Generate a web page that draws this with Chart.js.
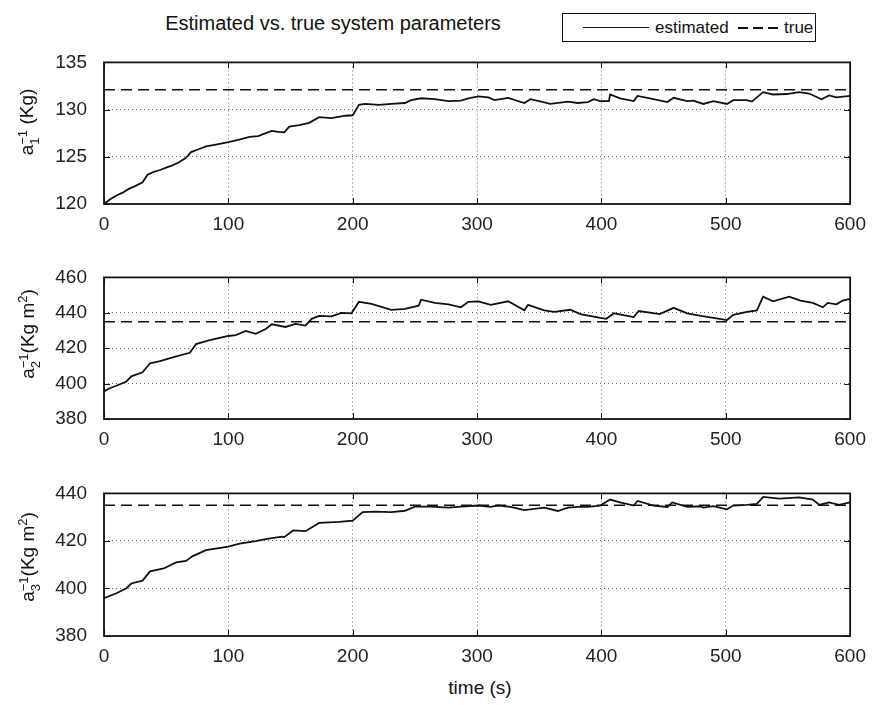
<!DOCTYPE html>
<html>
<head>
<meta charset="utf-8">
<script src="https://cdn.jsdelivr.net/npm/chart.js@4.4.1/dist/chart.umd.min.js"></script>
<style>
  html, body { margin: 0; padding: 0; background: #fff; }
  body { width: 875px; height: 705px; position: relative; overflow: hidden;
         font-family: 'Liberation Sans', Arial, sans-serif; color: #111; }
  canvas { position: absolute; left: 0; }
  .title { position: absolute; left: 333px; top: 23px; transform: translate(-50%, -50%);
           font-size: 20px; white-space: nowrap; }
  .ylab { position: absolute; left: 28px; transform: translate(-50%, -50%) rotate(-90deg);
          font-size: 19px; white-space: nowrap; }
  .ss { display: inline-block; font-size: 13px; line-height: 12px; vertical-align: -6px; text-align: left; }
  .ss span { display: block; }
  .sq { font-size: 13px; vertical-align: 7px; }
  .xlab { position: absolute; left: 480px; top: 688px; transform: translate(-50%, -50%);
          font-size: 19px; white-space: nowrap; }
  .legend { position: absolute; left: 562px; top: 13px; width: 254px; height: 29px;
            border: 1.5px solid #111; box-sizing: border-box; font-size: 17px; }
  .legend .solid { position: absolute; left: 20px; top: 13px; width: 66px; border-top: 1.6px solid #111; }
  .legend .dash { position: absolute; left: 175px; top: 13px; width: 40px; height: 1.6px;
                  background: repeating-linear-gradient(90deg, #111 0 10px, transparent 10px 15px); }
  .legend .t1 { position: absolute; left: 92px; top: 4px; }
  .legend .t2 { position: absolute; left: 221px; top: 4px; }
</style>
</head>
<body>
<div class="title">Estimated vs. true system parameters</div>
<div class="legend">
  <div class="solid"></div><span class="t1">estimated</span>
  <div class="dash"></div><span class="t2">true</span>
</div>
<canvas id="c1" width="875" height="204" style="top:34px"></canvas>
<canvas id="c2" width="875" height="204" style="top:249px"></canvas>
<canvas id="c3" width="875" height="205" style="top:465px"></canvas>
<div class="ylab" style="top:122px">a<span class="ss"><span>−1</span><span>1</span></span> (Kg)</div>
<div class="ylab" style="top:334px">a<span class="ss"><span>−1</span><span>2</span></span>(Kg m<span class="sq">2</span>)</div>
<div class="ylab" style="top:557px">a<span class="ss"><span>−1</span><span>3</span></span>(Kg m<span class="sq">2</span>)</div>
<div class="xlab">time (s)</div>
<script>
// estimated a1^-1 (Kg)
const a1Time = [0, 5, 10, 15, 20, 25, 31, 35, 40, 45, 50, 55, 60, 66, 70, 76, 82, 90, 100, 108,
  117, 124, 130, 135, 140, 145, 149, 157, 165, 173, 183, 194, 200, 205, 210, 221, 231, 242, 247, 255,
  266, 277, 287, 293, 301, 309, 314, 325, 338, 343, 359, 373, 381, 389, 394, 399, 406, 407, 415, 426,
  429, 439, 453, 458, 469, 474, 482, 490, 501, 506, 517, 521, 525, 530, 538, 549, 559, 567, 577, 583,
  589, 600];
const a1Est = [120.0, 120.5, 120.9, 121.2, 121.6, 121.9, 122.3, 123.1, 123.4, 123.6, 123.85, 124.1, 124.4, 124.9, 125.5, 125.8, 126.1, 126.3, 126.55, 126.8,
  127.1, 127.2, 127.5, 127.75, 127.65, 127.6, 128.2, 128.35, 128.6, 129.2, 129.1, 129.35, 129.4, 130.5, 130.6, 130.5, 130.6, 130.7, 131.0, 131.2,
  131.1, 130.9, 130.96, 131.2, 131.4, 131.3, 131.0, 131.25, 130.7, 131.1, 130.6, 130.85, 130.7, 130.8, 131.1, 130.9, 130.9, 131.6, 131.2, 130.9,
  131.45, 131.2, 130.8, 131.25, 130.9, 130.95, 130.6, 130.9, 130.6, 131.0, 131.0, 130.85, 131.3, 131.85, 131.6, 131.65, 131.85, 131.7, 131.1, 131.5,
  131.3, 131.45];

// estimated a2^-1 (Kg m^2)
const a2Time = [0, 5, 10, 18, 22, 31, 37, 45, 56, 69, 74, 85, 100, 106, 114, 122, 130, 135, 146, 154,
  162, 167, 173, 183, 191, 199, 205, 215, 231, 242, 253, 255, 266, 277, 287, 293, 301, 311, 325, 338,
  341, 354, 362, 375, 383, 399, 404, 410, 426, 430, 447, 458, 469, 480, 490, 501, 506, 517, 525, 530,
  538, 551, 560, 570, 578, 582, 589, 594, 600];
const a2Est = [395.6, 397.5, 398.8, 401.2, 404.1, 406.4, 411.5, 412.7, 414.9, 417.4, 422.3, 424.6, 426.9, 427.4, 429.8, 428.1, 430.8, 433.5, 432.0, 433.7,
  432.8, 436.6, 438.3, 438.0, 440.0, 439.7, 446.2, 445.1, 441.7, 442.2, 444.0, 447.4, 445.6, 444.8, 443.1, 446.2, 446.5, 444.5, 446.5, 441.4,
  444.5, 441.4, 440.5, 441.7, 439.3, 437.1, 436.6, 439.7, 437.6, 441.0, 439.3, 442.8, 439.7, 438.3, 437.1, 435.9, 438.8, 440.5, 441.4, 449.1,
  446.5, 449.1, 446.9, 445.6, 443.1, 445.6, 444.8, 446.9, 447.9];

// estimated a3^-1 (Kg m^2)
const a3Time = [0, 10, 18, 22, 31, 37, 48, 58, 66, 71, 82, 100, 109, 122, 130, 143, 145, 152, 162, 173,
  189, 200, 208, 218, 231, 242, 250, 263, 277, 287, 301, 311, 317, 327, 338, 354, 365, 373, 381, 389,
  399, 407, 415, 426, 429, 442, 453, 457, 469, 480, 482, 490, 501, 506, 517, 525, 530, 543, 559, 570,
  575, 583, 591, 600];
const a3Est = [395.9, 398.0, 400.1, 402.1, 403.3, 407.2, 408.4, 411.0, 411.6, 413.5, 416.1, 417.6, 418.9, 419.9, 420.8, 421.8, 421.6, 424.4, 424.1, 427.6,
  428.0, 428.5, 432.1, 432.3, 432.1, 432.7, 434.4, 434.4, 434.0, 434.4, 434.9, 434.3, 434.9, 434.3, 433.0, 434.0, 432.6, 434.0, 434.3, 434.3,
  434.9, 437.4, 436.2, 434.9, 436.8, 434.9, 434.3, 436.2, 434.3, 434.6, 434.0, 434.6, 433.3, 434.9, 435.2, 435.6, 438.5, 437.8, 438.3, 437.4,
  435.2, 436.2, 435.2, 436.2];

// true values
const trueA1 = 132.1;
const trueA2 = 435;
const trueA3 = 435;
const timeRange = [0, 600];

Chart.defaults.font.family = "'Liberation Sans', Arial, sans-serif";
Chart.defaults.font.size = 19;
Chart.defaults.color = '#222';

// box around the axes with small inward ticks, like the original plot
const frame = {
  id: 'frame',
  afterDatasetsDraw(chart) {
    const { ctx, chartArea: a, scales: { x, y } } = chart;
    ctx.save();
    ctx.strokeStyle = '#111';
    ctx.lineWidth = 1;
    ctx.beginPath();
    x.ticks.forEach(t => {
      const px = Math.round(x.getPixelForValue(t.value)) + 0.5;
      ctx.moveTo(px, a.bottom); ctx.lineTo(px, a.bottom - 6);
      ctx.moveTo(px, a.top); ctx.lineTo(px, a.top + 6);
    });
    y.ticks.forEach(t => {
      const py = Math.round(y.getPixelForValue(t.value)) + 0.5;
      ctx.moveTo(a.left, py); ctx.lineTo(a.left + 6, py);
      ctx.moveTo(a.right, py); ctx.lineTo(a.right - 6, py);
    });
    ctx.stroke();
    ctx.lineWidth = 1.8;
    ctx.strokeRect(a.left, a.top, a.right - a.left, a.bottom - a.top);
    ctx.restore();
  }
};

const makeConfig = (time, est, trueVal, yMin, yMax, yStep) => ({
  type: 'line',
  data: {
    datasets: [{
      label: 'estimated',
      data: time.map((t, i) => ({ x: t, y: est[i] })),
      borderColor: '#111', borderWidth: 1.8, pointRadius: 0, tension: 0
    }, {
      label: 'true',
      data: timeRange.map(t => ({ x: t, y: trueVal })),
      borderColor: '#111', borderWidth: 1.5, borderDash: [11, 6], pointRadius: 0
    }]
  },
  options: {
    responsive: false,
    animation: false,
    layout: { padding: { top: 14, right: 20, left: 0, bottom: 0 } },
    plugins: { legend: { display: false }, tooltip: { enabled: false } },
    scales: {
      x: {
        type: 'linear', min: 0, max: 600,
        ticks: { stepSize: 100, padding: 9, maxRotation: 0 },
        grid: { color: '#666', lineWidth: 1, drawTicks: false },
        border: { display: false, dash: [1, 3] },
        afterFit: s => { s.height = 34; }
      },
      y: {
        min: yMin, max: yMax,
        ticks: { stepSize: yStep, padding: 17 },
        grid: { color: '#666', lineWidth: 1, drawTicks: false },
        border: { display: false, dash: [1, 3] },
        afterFit: s => { s.width = 104; }
      }
    }
  },
  plugins: [frame]
});

new Chart(document.getElementById('c1'), makeConfig(a1Time, a1Est, trueA1, 120, 135, 5));
new Chart(document.getElementById('c2'), makeConfig(a2Time, a2Est, trueA2, 380, 460, 20));
new Chart(document.getElementById('c3'), makeConfig(a3Time, a3Est, trueA3, 380, 440, 20));
</script>
</body>
</html>
